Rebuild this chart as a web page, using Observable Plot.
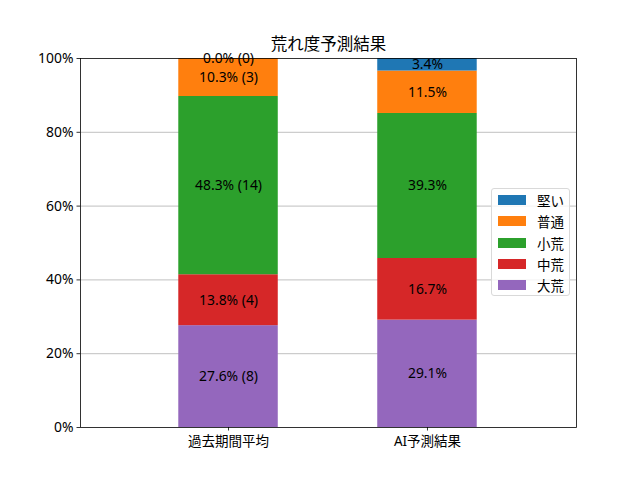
<!DOCTYPE html>
<html>
<head>
<meta charset="utf-8">
<script src="https://cdn.jsdelivr.net/npm/d3@7"></script>
<script src="https://cdn.jsdelivr.net/npm/@observablehq/plot@0.6"></script>
<style>
  html, body { margin: 0; padding: 0; background: #fff; }
  #wrap { position: relative; width: 640px; height: 480px; font-family: "Noto Sans", "Noto Sans CJK JP", sans-serif; }
  #legend { position: absolute; left: 491px; top: 188px; width: 79px; height: 108px; box-sizing: border-box;
    border: 1px solid #d9d9d9; border-radius: 3px; background: rgba(255,255,255,0.8); font-size: 13.5px; }
  .item { position: absolute; left: 6px; height: 14px; display: flex; align-items: center; }
  .sw { width: 28px; height: 10px; margin-right: 11px; }
</style>
</head>
<body>
<div id="wrap"></div>
<script>
const categories = ["過去期間平均", "AI予測結果"];
const levels = ["大荒", "中荒", "小荒", "普通", "堅い"];
const colors = ["#9467bd", "#d62728", "#2ca02c", "#ff7f0e", "#1f77b4"];
const pastPct = [27.6, 13.8, 48.3, 10.3, 0.0];
const pastCount = [8, 4, 14, 3, 0];
const aiPct = [29.1, 16.7, 39.3, 11.5, 3.4];
const yTicks = [0, 20, 40, 60, 80, 100];

const series = [pastPct, aiPct];
const rows = [];
series.forEach((vals, ci) => {
  let acc = 0;
  vals.forEach((v, li) => {
    const y1 = acc; acc += v;
    rows.push({
      ci, level: levels[li], y1, y2: acc, mid: (y1 + acc) / 2,
      label: ci === 0 ? `${v.toFixed(1)}% (${pastCount[li]})` : `${v.toFixed(1)}%`
    });
  });
});

const font = "Noto Sans, Noto Sans CJK JP, sans-serif";
const plot = Plot.plot({
  width: 640, height: 480,
  marginLeft: 80, marginRight: 64, marginTop: 58, marginBottom: 53,
  style: { fontFamily: font, fontSize: "13.5px", color: "#000", background: "#fff" },
  x: { type: "linear", domain: [-0.744, 1.749], axis: null, label: null },
  y: { domain: [0, 100], axis: null, label: null },
  color: { domain: levels, range: colors },
  marks: [
    Plot.ruleY([20, 40, 60, 80], { stroke: "#b0b0b0", strokeWidth: 0.8 }),
    Plot.rect(rows, { x1: d => d.ci - 0.25, x2: d => d.ci + 0.25, y1: "y1", y2: "y2", fill: "level" }),
    Plot.text(rows, { x: "ci", y: "mid", text: "label", fill: "#000", fontSize: 13.9 }),
    Plot.frame({ stroke: "#000", strokeWidth: 0.8 }),
    Plot.axisY(yTicks, { tickFormat: d => d + "%", tickSize: 3.5, tickPadding: 3.5, fontSize: 13.9, stroke: "#000", strokeWidth: 0.8, fill: "#000", label: null }),
    Plot.axisX([0, 1], { tickFormat: i => categories[i], tickSize: 3.5, tickPadding: 5, fontSize: 13.5, stroke: "#000", strokeWidth: 0.8, fill: "#000", label: null }),
    Plot.text(["荒れ度予測結果"], { frameAnchor: "top", lineAnchor: "middle", dy: -14, fontSize: 16.5, fill: "#000" })
  ]
});
const wrap = document.getElementById("wrap");
wrap.appendChild(plot);

const legend = document.createElement("div");
legend.id = "legend";
const order = [4, 3, 2, 1, 0];
order.forEach((li, k) => {
  const it = document.createElement("div");
  it.className = "item";
  it.style.top = (4 + k * 21.3) + "px";
  const sw = document.createElement("div");
  sw.className = "sw";
  sw.style.background = colors[li];
  const t = document.createElement("span");
  t.textContent = levels[li];
  it.appendChild(sw); it.appendChild(t);
  legend.appendChild(it);
});
wrap.appendChild(legend);
</script>
</body>
</html>
